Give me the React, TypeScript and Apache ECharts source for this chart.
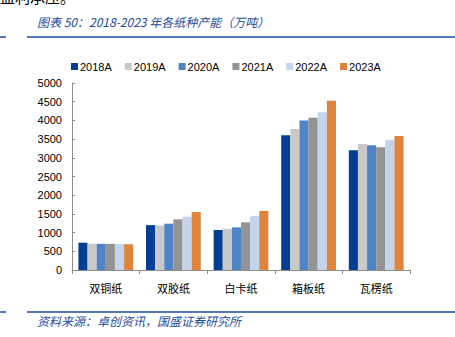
import React, { useEffect, useRef } from "react";
import * as echarts from "echarts";

const categories = ["双铜纸", "双胶纸", "白卡纸", "箱板纸", "瓦楞纸"];
const seriesNames = ["2018A", "2019A", "2020A", "2021A", "2022A", "2023A"];
const v2018 = [730, 1200, 1070, 3600, 3200];
const v2019 = [700, 1190, 1100, 3770, 3370];
const v2020 = [700, 1238, 1140, 4000, 3335];
const v2021 = [700, 1355, 1275, 4070, 3280];
const v2022 = [700, 1425, 1445, 4215, 3475];
const v2023 = [688, 1550, 1580, 4525, 3585];
const yTicks = [0, 500, 1000, 1500, 2000, 2500, 3000, 3500, 4000, 4500, 5000];
const colors = ["#003f93", "#c9c9c9", "#4f84c6", "#939393", "#c3d4ec", "#de843c"];
const titleText = "图表 50：2018-2023 年各纸种产能（万吨）";
const sourceText = "资料来源：卓创资讯，国盛证券研究所";

export default function App() {
  const ref = useRef<HTMLDivElement>(null);
  useEffect(() => {
    if (!ref.current) return;
    const chart = echarts.init(ref.current, null, { renderer: "svg" });
    const all = [v2018, v2019, v2020, v2021, v2022, v2023];
    chart.setOption({
      animation: false,
      backgroundColor: "#ffffff",
      grid: { left: 72, right: 45, top: 83, bottom: 67 },
      legend: {
        top: 56,
        left: 66,
        itemWidth: 7,
        itemHeight: 7,
        itemGap: 13,
        icon: "rect",
        textStyle: { fontSize: 11, color: "#000", fontFamily: "Liberation Sans", padding: [0, 0, 0, -3] },
        data: seriesNames,
      },
      graphic: [
        {
          type: "text",
          left: 0,
          top: -11,
          style: { text: "盈利承压。", fontSize: 15, fill: "#000", fontFamily: "Noto Sans CJK SC" },
        },
        {
          type: "text",
          left: 37,
          top: 15,
          style: {
            text: titleText,
            fontSize: 12,
            fontStyle: "italic",
            fill: "#1f4e9c",
            fontFamily: "Noto Sans CJK SC",
          },
        },
        { type: "line", shape: { x1: 0, y1: 37, x2: 6, y2: 37 }, style: { stroke: "#1e4d9a", lineWidth: 1.5 } },
        { type: "line", shape: { x1: 27, y1: 37, x2: 455, y2: 37 }, style: { stroke: "#1e4d9a", lineWidth: 1.5 } },
        { type: "line", shape: { x1: 0, y1: 312, x2: 6, y2: 312 }, style: { stroke: "#1e4d9a", lineWidth: 1.5 } },
        { type: "line", shape: { x1: 27, y1: 312, x2: 455, y2: 312 }, style: { stroke: "#1e4d9a", lineWidth: 1.5 } },
        {
          type: "text",
          left: 37,
          top: 314,
          style: {
            text: sourceText,
            fontSize: 12,
            fontStyle: "italic",
            fill: "#1f4e9c",
            fontFamily: "Noto Sans CJK SC",
          },
        },
      ],
      xAxis: {
        type: "category",
        data: categories,
        axisLine: { lineStyle: { color: "#8c8c8c" } },
        axisTick: { show: true, length: 4, lineStyle: { color: "#8c8c8c" } },
        axisLabel: { fontSize: 11, color: "#000", margin: 12, fontFamily: "Noto Sans CJK SC" },
      },
      yAxis: {
        type: "value",
        min: 0,
        max: 5000,
        interval: 500,
        axisLine: { show: true, lineStyle: { color: "#8c8c8c" } },
        axisTick: { show: true, inside: true, length: 3, lineStyle: { color: "#8c8c8c" } },
        splitLine: { show: false },
        axisLabel: {
          fontSize: 11,
          color: "#000",
          margin: 10,
          fontFamily: "Liberation Sans",
          formatter: (v: number) => (yTicks.includes(v) ? String(v) : ""),
        },
      },
      series: seriesNames.map((name, i) => ({
        name,
        type: "bar",
        data: all[i],
        barGap: "0%",
        barCategoryGap: "19%",
        itemStyle: { color: colors[i] },
      })),
    });
    return () => chart.dispose();
  }, []);
  return <div ref={ref} style={{ width: 455, height: 337, position: "absolute", left: 0, top: 0 }} />;
}
